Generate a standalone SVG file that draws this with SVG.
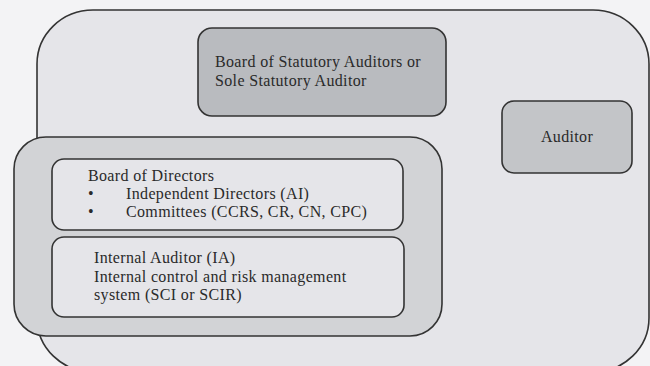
<svg xmlns="http://www.w3.org/2000/svg" width="650" height="366" viewBox="0 0 650 366">
<style>
.box{stroke:#333;stroke-width:1.6}
.t{font-family:"Liberation Serif","DejaVu Serif",serif;font-size:16px;letter-spacing:0.35px;fill:#2a2a2a}
</style>
<rect width="650" height="366" fill="#f3f3f5"/>
<g id="company">
<rect class="box" x="37" y="10" width="612" height="362" rx="56" ry="54" fill="#e5e5e9"/>
</g>
<g id="statutory">
<rect class="box" x="198" y="28" width="248" height="88" rx="14" fill="#b9bbbf"/>
<text class="t" x="215" y="67">Board of Statutory Auditors or</text>
<text class="t" x="215" y="86">Sole Statutory Auditor</text>
</g>
<g id="auditor">
<rect class="box" x="502" y="101" width="130" height="72" rx="12" fill="#c3c5c8"/>
<text class="t" x="567" y="142" text-anchor="middle">Auditor</text>
</g>
<g id="governance">
<rect class="box" x="14" y="137" width="428" height="199" rx="32" fill="#d2d3d6"/>
</g>
<g id="board">
<rect class="box" x="52" y="159" width="351" height="71" rx="12" fill="#e5e5e9"/>
<text class="t" x="88" y="181">Board of Directors</text>
<text class="t" x="88" y="199">•</text>
<text class="t" x="126" y="199">Independent Directors (AI)</text>
<text class="t" x="88" y="217">•</text>
<text class="t" x="126" y="217">Committees (CCRS, CR, CN, CPC)</text>
</g>
<g id="internal">
<rect class="box" x="52" y="237" width="352" height="80" rx="12" fill="#e5e5e9"/>
<text class="t" x="94" y="263">Internal Auditor (IA)</text>
<text class="t" x="94" y="282">Internal control and risk management</text>
<text class="t" x="94" y="300">system (SCI or SCIR)</text>
</g>
<g id="connectors"></g>
</svg>
